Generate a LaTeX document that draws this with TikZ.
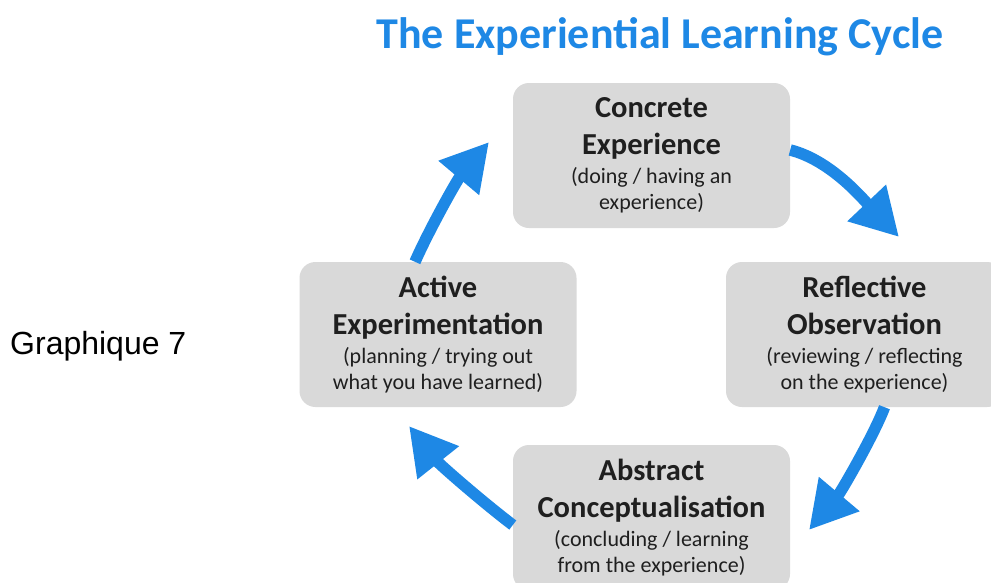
\documentclass[tikz,border=0pt]{standalone}
\usepackage{fontspec}
\setmainfont{Carlito}
\newfontfamily\arialf{Liberation Sans}
\usetikzlibrary{arrows.meta}
\definecolor{cycblue}{HTML}{1E88E5}
\definecolor{boxgray}{HTML}{D9D9D9}
\definecolor{txtdark}{HTML}{1F1F1F}
\newcommand\stagetext[4]{\parbox{270pt}{\centering
  \fontsize{30.5}{37.5}\selectfont\bfseries #1\\ #2\par
  \vspace{3pt}\fontsize{22}{26}\selectfont\mdseries #3\\ #4\par}}
\begin{document}
\begin{tikzpicture}[x=1pt,y=-1pt,
  stage/.style={fill=boxgray, rounded corners=16pt, minimum width=277pt,
    minimum height=145pt, align=center, text=txtdark, inner sep=0pt},
  cycarrow/.style={draw=cycblue, line width=11.5pt,
    -{Triangle[width=50pt,length=47pt]}},
]
\useasboundingbox (0,0) rectangle (991,582);
\fill[white] (0,0) rectangle (991,582);

\node[text=cycblue, font=\fontsize{44}{48}\selectfont\bfseries] (title) at (660,37)
  {The Experiential Learning Cycle};
\node[font=\arialf\fontsize{32}{36}\selectfont, anchor=west, text=black, inner sep=0pt] (g7) at (10,346)
  {Graphique 7};

\node[stage] (ce) at (651.5,155.5)
  {\stagetext{Concrete}{Experience}{(doing / having an}{experience)}};
\node[stage] (ro) at (864.5,334.5)
  {\stagetext{Reflective}{Observation}{(reviewing / reflecting}{on the experience)}};
\node[stage] (ac) at (651.5,517.5)
  {\stagetext{Abstract}{Conceptualisation}{(concluding / learning}{from the experience)}};
\node[stage] (ae) at (438,334.5)
  {\stagetext{Active}{Experimentation}{(planning / trying out}{what you have learned)}};

\coordinate (t1) at (899,237);
\coordinate (t2) at (809,530);
\coordinate (t3) at (409,426);
\coordinate (t4) at (489,142);

\draw[cycarrow] ([yshift=5.5pt]ce.east) .. controls (830,160) and (862,198) .. (t1);
\draw[cycarrow] ([xshift=20pt]ro.south) .. controls (874,435) and (841,492) .. (t2);
\draw[cycarrow] ([yshift=-7.5pt]ac.west) .. controls (485,504) and (440,465) .. (t3);
\draw[cycarrow] ([xshift=-23pt]ae.north) .. controls (429,230) and (457,180) .. (t4);
\end{tikzpicture}
\end{document}
